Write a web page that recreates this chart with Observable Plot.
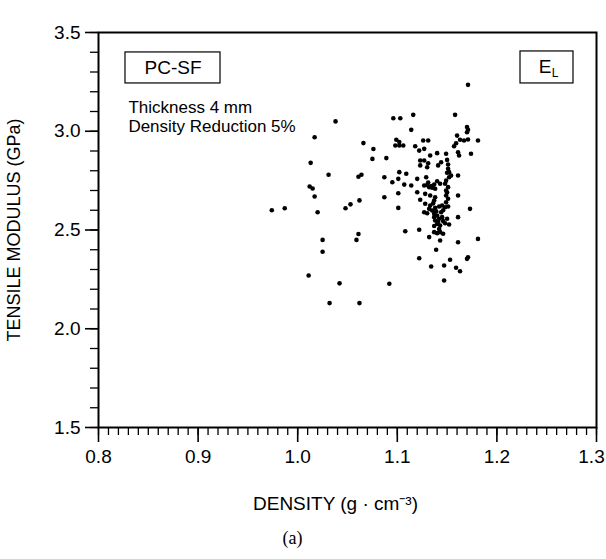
<!DOCTYPE html>
<html>
<head>
<meta charset="utf-8">
<script src="https://cdn.jsdelivr.net/npm/d3@7"></script>
<script src="https://cdn.jsdelivr.net/npm/@observablehq/plot@0.6"></script>
<style>
  html, body { margin: 0; padding: 0; background: #fff; }
</style>
</head>
<body>
<div id="chart"></div>
<script>
// Density (g·cm^-3) and tensile modulus (GPa)
const density = [
  1.038,1.017,1.066,1.076,1.013,1.075,1.031,1.061,1.064,1.012,1.015,1.017,1.062,1.053,1.048,0.974,0.987,1.020,1.061,1.059,1.025,1.025,1.011,1.042,1.032,1.062,
  1.171,1.096,1.103,1.116,1.158,1.114,1.170,1.171,1.170,1.160,1.163,1.167,1.171,1.181,1.099,1.102,1.098,1.102,1.106,1.126,1.131,1.118,1.122,1.127,
  1.157,1.159,1.161,1.162,1.089,1.174,1.133,1.140,1.149,1.123,1.127,1.131,1.130,1.144,1.150,1.151,1.151,1.123,1.141,1.102,1.109,1.087,1.101,1.095,
  1.120,1.107,1.114,1.129,1.131,1.152,1.154,1.152,1.161,1.140,1.143,1.127,1.132,1.135,1.138,1.148,1.151,1.149,1.120,1.128,1.133,1.101,1.087,1.138,
  1.137,1.149,1.151,1.161,1.123,1.128,1.133,1.132,1.135,1.138,1.142,1.145,1.148,1.151,1.127,1.130,1.137,1.140,1.101,1.173,1.137,1.138,1.142,1.145,
  1.150,1.140,1.143,1.148,1.152,1.161,1.122,1.108,1.137,1.140,1.143,1.146,1.132,1.143,1.161,1.181,1.139,1.122,1.153,1.171,1.170,1.134,1.147,1.159,
  1.163,1.147,1.092,
  1.130,1.134,1.137,1.146,1.139,1.144,1.141,1.146,1.137,1.149,1.150,1.149,1.150,1.136,1.142
];
const modulus = [
  3.05,2.97,2.94,2.91,2.84,2.86,2.78,2.77,2.78,2.72,2.71,2.67,2.65,2.63,2.61,2.60,2.61,2.59,2.48,2.45,2.45,2.39,2.27,2.23,2.13,2.13,
  3.235,3.066,3.066,3.083,3.083,3.007,3.021,3.007,2.995,2.978,2.957,2.953,2.958,2.953,2.957,2.945,2.928,2.928,2.928,2.953,2.953,2.924,2.902,2.911,
  2.924,2.939,2.894,2.877,2.864,2.886,2.877,2.889,2.886,2.852,2.852,2.838,2.818,2.843,2.855,2.832,2.810,2.827,2.827,2.793,2.785,2.767,2.759,2.742,
  2.759,2.730,2.725,2.767,2.740,2.793,2.776,2.767,2.776,2.747,2.734,2.725,2.717,2.714,2.709,2.734,2.717,2.700,2.691,2.683,2.675,2.686,2.666,2.666,
  2.649,2.675,2.658,2.675,2.653,2.633,2.624,2.607,2.599,2.612,2.619,2.624,2.615,2.619,2.590,2.585,2.582,2.573,2.612,2.607,2.565,2.548,2.557,2.565,
  2.557,2.531,2.523,2.534,2.528,2.565,2.501,2.494,2.489,2.484,2.489,2.481,2.464,2.447,2.438,2.455,2.400,2.357,2.349,2.362,2.354,2.315,2.320,2.309,
  2.291,2.244,2.228,
  2.728,2.722,2.730,2.600,2.595,2.590,2.540,2.545,2.520,2.640,2.790,2.750,2.690,2.635,2.505
];
const xMajor = [0.8, 0.9, 1.0, 1.1, 1.2, 1.3];
const xMinor = d3.range(80, 131).map(d => d / 100);
const yMajor = [1.5, 2.0, 2.5, 3.0, 3.5];
const yMinor = d3.range(15, 36).map(d => d / 10);

const points = density.map((d, i) => ({density: d, modulus: modulus[i]}));
const fmt = d3.format(".1f");

const chart = Plot.plot({
  width: 606,
  height: 559,
  marginLeft: 98,
  marginRight: 10,
  marginTop: 32,
  marginBottom: 132,
  style: {fontFamily: "'Liberation Sans', Arial, sans-serif", fontSize: "19px", color: "#000", background: "#fff"},
  x: {domain: [0.8, 1.3], label: null},
  y: {domain: [1.5, 3.5], label: null},
  marks: [
    Plot.axisX({ticks: xMinor, tickSize: 8, text: null, strokeWidth: 1.3}),
    Plot.axisX({ticks: xMajor, tickSize: 15, tickPadding: 7, strokeWidth: 1.6, text: null}),
    Plot.axisX({ticks: xMajor.slice(0, 5), tickSize: 15, tickPadding: 7, stroke: "none", tickFormat: fmt}),
    Plot.axisX({ticks: xMajor.slice(5), tickSize: 15, tickPadding: 7, stroke: "none", tickFormat: fmt, dx: -5}),
    Plot.axisY({ticks: yMinor, tickSize: 8, text: null, strokeWidth: 1.3}),
    Plot.axisY({ticks: yMajor, tickSize: 13, tickPadding: 5, strokeWidth: 1.6, tickFormat: fmt}),
    Plot.frame({stroke: "#000", strokeWidth: 2}),
    Plot.dot(points, {x: "density", y: "modulus", r: 2.3, fill: "#000", stroke: null}),
    // annotation boxes
    Plot.rect([0], {x1: 0.8271, x2: 0.9225, y1: 3.242, y2: 3.399, fill: "none", stroke: "#000", strokeWidth: 1.2}),
    Plot.text(["PC-SF"], {x: 0.8748, y: 3.32, text: d => d, fontSize: 19}),
    Plot.rect([0], {x1: 1.2237, x2: 1.2769, y1: 3.242, y2: 3.404, fill: "none", stroke: "#000", strokeWidth: 1.2}),
    Plot.text(["E"], {x: 1.2485, y: 3.325, text: d => d, fontSize: 19}),
    Plot.text(["L"], {x: 1.2485, y: 3.325, text: d => d, fontSize: 12, dx: 10, dy: 6}),
    Plot.text(["Thickness 4 mm\nDensity Reduction 5%"], {x: 0.83, y: 3.165, text: d => d, textAnchor: "start", lineAnchor: "top", lineHeight: 1.15, fontSize: 17}),
    // axis labels
    Plot.text(["DENSITY (g · cm⁻³)"], {frameAnchor: "bottom", dx: -12, dy: 82, text: d => d, fontSize: 19}),
    Plot.text(["TENSILE MODULUS (GPa)"], {frameAnchor: "left", dx: -84, text: d => d, rotate: -90, textAnchor: "middle", fontSize: 18}),
    Plot.text(["(a)"], {frameAnchor: "bottom", dx: -55, dy: 116, text: d => d, fontSize: 18, fontFamily: "'Liberation Serif', serif"})
  ]
});
document.getElementById("chart").appendChild(chart);
</script>
</body>
</html>
